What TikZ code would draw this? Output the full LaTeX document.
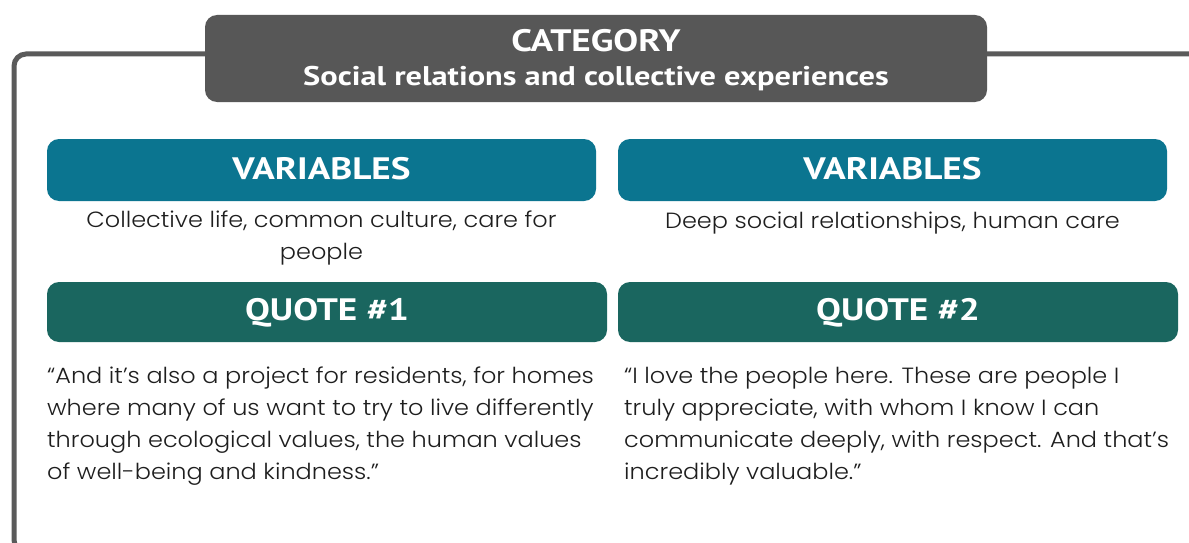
\documentclass[tikz,border=0pt]{standalone}
\usepackage{fontspec}
\newfontfamily\hdrfont{PT Sans}[FakeStretch=1.2]
\newfontfamily\bodyfont{Poppins Light}[FakeStretch=1.09]
\definecolor{framegray}{HTML}{5A5A5A}
\definecolor{catgray}{HTML}{575757}
\definecolor{varblue}{HTML}{0B7590}
\definecolor{quotegreen}{HTML}{1A665F}
\definecolor{bodytext}{HTML}{1E1E1E}
\tikzset{
  hdrbox/.style={rounded corners=12pt, draw=none},
  hdrtext/.style={inner sep=0pt, anchor=base, text=white, font=\hdrfont\bfseries\fontsize{31}{36}\selectfont},
  bodytxt/.style={inner sep=0pt, text=bodytext, font=\bodyfont\fontsize{22}{32}\selectfont},
}
\begin{document}
\begin{tikzpicture}[x=1pt,y=-1pt]
\useasboundingbox (0,0) rectangle (1189,543);
\clip (0,0) rectangle (1189,543);
\fill[white] (0,0) rectangle (1189,543);
% outer frame
\coordinate (ftr) at (1260,54);
\coordinate (ftl) at (14,54);
\coordinate (fbl) at (14,552);
\coordinate (fbr) at (1260,552);
\draw[framegray, line width=5pt, rounded corners=12pt] (ftr) -- (ftl) -- (fbl) -- (fbr);
% category
\fill[catgray, hdrbox] (205,15) rectangle (987,102);
\node[hdrtext] (cat) at (596,52) {CATEGORY};
\node[hdrtext, font=\hdrfont\bfseries\fontsize{27}{30}\selectfont] (catsub) at (596,85) {Social relations and collective experiences};
% variables
\fill[varblue, hdrbox] (47,139) rectangle (596,201);
\fill[varblue, hdrbox] (618,139) rectangle (1167,201);
\node[hdrtext] (v1) at (321.5,179) {VARIABLES};
\node[hdrtext] (v2) at (892.5,179) {VARIABLES};
\node[bodytxt, anchor=base] (v1t) at (321.5,227) {\parbox[t]{560pt}{\centering Collective life, common culture, care for\\people}};
\node[bodytxt, anchor=base] (v2t) at (892.5,228) {Deep social relationships, human care};
% quotes
\fill[quotegreen, hdrbox] (47,282) rectangle (607,342);
\fill[quotegreen, hdrbox] (618,282) rectangle (1178,342);
\node[hdrtext] (q1) at (327,320) {QUOTE \#1};
\node[hdrtext] (q2) at (898,320) {QUOTE \#2};
\node[bodytxt, anchor=base west] (q1t) at (47,383) {\parbox[t]{640pt}{\raggedright “And it’s also a project for residents, for homes\\where many of us want to try to live differently\\through ecological values, the human values\\of well-being and kindness.”}};
\node[bodytxt, anchor=base west] (q2t) at (624,383) {\parbox[t]{640pt}{\raggedright “I love the people here. These are people I\\truly appreciate, with whom I know I can\\communicate deeply, with respect. And that’s\\incredibly valuable.”}};
\end{tikzpicture}
\end{document}
